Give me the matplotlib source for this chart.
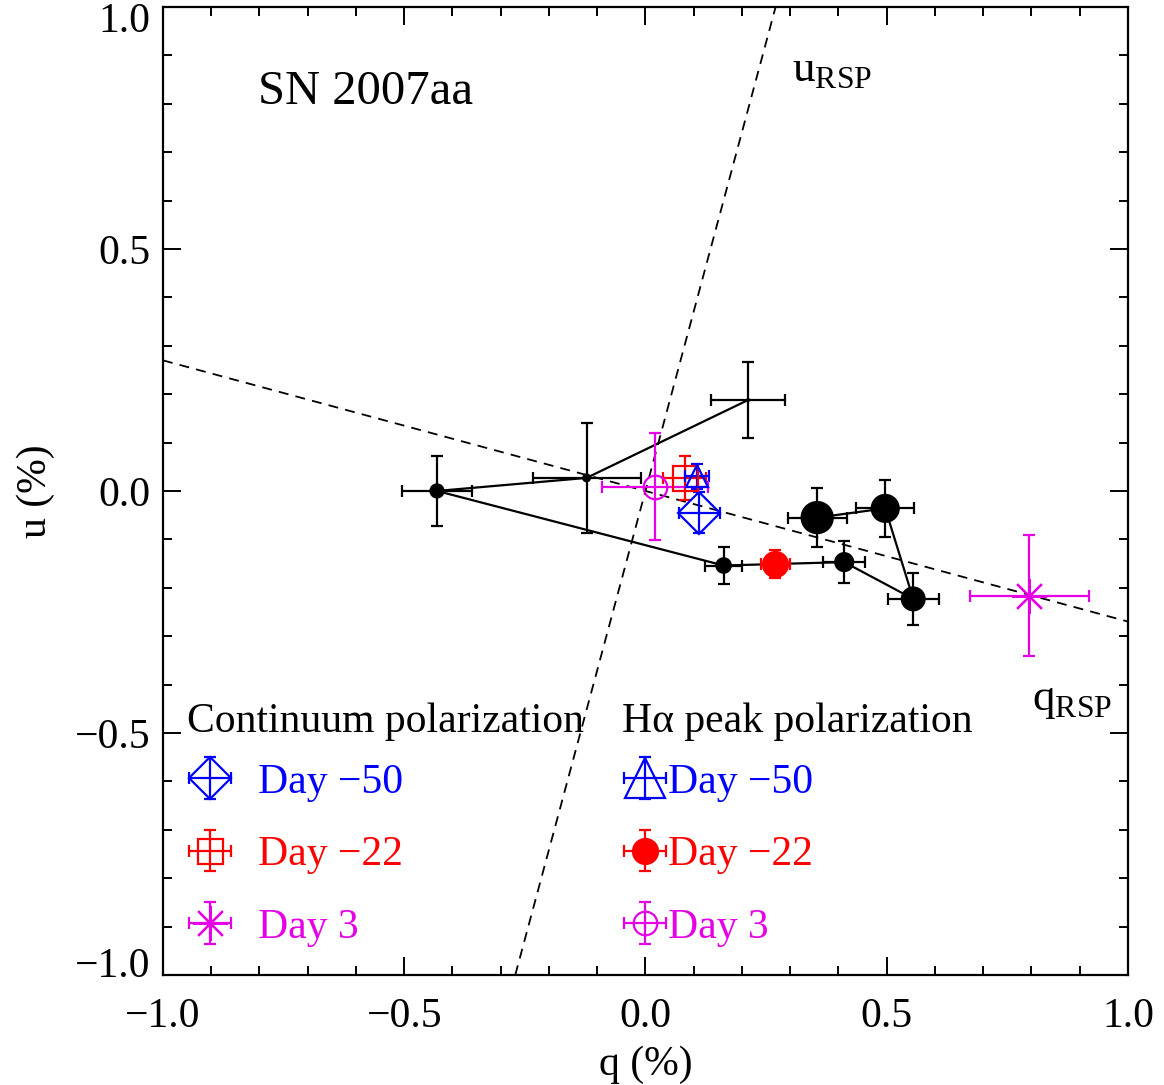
import numpy as np
import matplotlib.pyplot as plt
from matplotlib.ticker import MultipleLocator
from matplotlib.transforms import ScaledTranslation
from matplotlib.legend_handler import HandlerErrorbar

plt.rcParams['font.family'] = 'serif'
plt.rcParams['font.serif'] = ['Liberation Serif', 'DejaVu Serif']
plt.rcParams['mathtext.fontset'] = 'custom'
plt.rcParams['mathtext.rm'] = 'Liberation Serif'

##### DATA #####
# H-alpha profile across velocity bins (black, joined by a line)
seq_q = [0.213, -0.122, -0.432, 0.162, 0.412, 0.555, 0.497, 0.356]
seq_u = [0.188, 0.027, 0.000, -0.154, -0.147, -0.223, -0.036, -0.055]
seq_qerr = [0.077, 0.112, 0.073, 0.038, 0.044, 0.053, 0.060, 0.061]
seq_uerr = [0.078, 0.113, 0.073, 0.038, 0.044, 0.054, 0.059, 0.061]
seq_size = [3, 6.5, 11, 12, 14.5, 18, 21, 24]   # marker diameter, pt

epochs = ['Day \u221250', 'Day \u221222', 'Day 3']
epoch_colors = ['#0000ff', '#ff0000', '#e600e6']

# continuum polarization
cont_q = [0.112, 0.081, 0.796]
cont_u = [-0.045, 0.027, -0.217]
cont_qerr = [0.042, 0.044, 0.124]
cont_uerr = [0.042, 0.046, 0.125]

# H-alpha peak polarization
peak_q = [0.107, 0.269, 0.019]
peak_u = [0.030, -0.151, 0.009]
peak_qerr = [0.024, 0.030, 0.110]
peak_uerr = [0.025, 0.029, 0.111]

# rotated stokes frame, angle of q_RSP axis in the q-u plane (deg)
rsp_angle = -15.1


##### PLOT #####
fig = plt.figure(figsize=(11.64, 10.85), dpi=100)
ax = fig.add_axes([0.140, 0.1014, 0.829, 0.8922])

# dashed RSP axes through origin
t = np.deg2rad(rsp_angle)
for slope in [np.tan(t), -1.0 / np.tan(t)]:
    ax.axline((0, 0), slope=slope, color='k', lw=1.3, dashes=(5.5, 4.0), zorder=1)

# black sequence
ax.errorbar(seq_q, seq_u, xerr=seq_qerr, yerr=seq_uerr, fmt='none', ecolor='k',
            elinewidth=1.6, capsize=4.5, capthick=1.6, zorder=2)
ax.plot(seq_q, seq_u, color='k', lw=1.6, zorder=2)
ax.scatter(seq_q, seq_u, s=np.array(seq_size) ** 2, c='k', linewidths=0, zorder=3)


def pol_point(q, u, qe, ue, marker, ms, color, filled=False):
    return ax.errorbar([q], [u], xerr=[qe], yerr=[ue], fmt='', marker=marker, ls='none',
                       ms=ms, color=color, mfc=color if filled else 'none', mec=color,
                       mew=1.6, elinewidth=1.6, capsize=4.5, capthick=1.6, zorder=4)


cont_markers = [('D', 21), ('s', 18), ((8, 2, 0), 25)]
peak_markers = [('^', 16, False), ('o', 18, True), ('o', 17, False)]

cont_handles = []
for i in range(3):
    m, ms = cont_markers[i]
    cont_handles.append(pol_point(cont_q[i], cont_u[i], cont_qerr[i], cont_uerr[i],
                                  m, ms, epoch_colors[i]))
peak_handles = []
for i in range(3):
    m, ms, fill = peak_markers[i]
    peak_handles.append(pol_point(peak_q[i], peak_u[i], peak_qerr[i], peak_uerr[i],
                                  m, ms, epoch_colors[i], filled=fill))

# axes
ax.set_xlim(-1, 1)
ax.set_ylim(-1, 1)
ax.set_xticks([-1, -0.5, 0, 0.5, 1])
ax.set_yticks([-1, -0.5, 0, 0.5, 1])
ax.xaxis.set_minor_locator(MultipleLocator(0.1))
ax.yaxis.set_minor_locator(MultipleLocator(0.1))
ax.xaxis.set_major_formatter(lambda v, p: f'{v:.1f}'.replace('-', '\u2212'))
ax.yaxis.set_major_formatter(lambda v, p: f'{v:.1f}'.replace('-', '\u2212'))
ax.tick_params(which='both', direction='in', top=True, right=True, width=1.4, labelsize=30)
ax.tick_params(which='major', length=13)
ax.tick_params(which='minor', length=6.5)
ax.tick_params(axis='x', pad=16)
ax.tick_params(axis='y', pad=9)
for s in ax.spines.values():
    s.set_linewidth(1.6)

ax.set_xlabel('q (%)', fontsize=30, labelpad=7)
ax.set_ylabel('u (%)', fontsize=30, labelpad=14)

# keep end labels of the u axis inside the figure
yt = ax.yaxis.get_major_ticks()
yt[0].label1.set_transform(yt[0].label1.get_transform() +
                           ScaledTranslation(0, 0.13, fig.dpi_scale_trans))
yt[-1].label1.set_transform(yt[-1].label1.get_transform() +
                            ScaledTranslation(0, -0.10, fig.dpi_scale_trans))

# labels
ax.text(-0.803, 0.824, 'SN 2007aa', fontsize=35, ha='left', va='center')
ax.text(0.304, 0.845, r'u$_\mathrm{RSP}$', fontsize=32.5, ha='left', va='baseline')
ax.text(0.801, -0.452, r'q$_\mathrm{RSP}$', fontsize=32.5, ha='left', va='baseline')

ax.text(0.025, 0.2614, 'Continuum polarization', fontsize=30, transform=ax.transAxes,
        ha='left', va='center')
ax.text(0.4756, 0.2614, 'H\u03b1 peak polarization', fontsize=30, transform=ax.transAxes,
        ha='left', va='center')

leg1 = ax.legend(cont_handles, epochs, loc='center left', bbox_to_anchor=(0.025, 0.124),
                 frameon=False, fontsize=30, borderpad=0, borderaxespad=0,
                 handlelength=1.1, handletextpad=0.6, labelspacing=0.82)
for txt, c in zip(leg1.get_texts(), epoch_colors):
    txt.set_color(c)
ax.add_artist(leg1)


# the triangle is drawn larger in the key than on the plot
def grow_triangle(h, orig):
    h.update_from(orig)
    if hasattr(h, 'get_marker') and h.get_marker() == '^':
        h.set_markersize(29)


big_tri = HandlerErrorbar(update_func=grow_triangle)
leg2 = ax.legend(peak_handles, epochs, loc='center left', bbox_to_anchor=(0.4756, 0.124),
                 frameon=False, fontsize=30, borderpad=0, borderaxespad=0,
                 handlelength=1.1, handletextpad=0.0, labelspacing=0.82,
                 handler_map={peak_handles[0]: big_tri})
for txt, c in zip(leg2.get_texts(), epoch_colors):
    txt.set_color(c)

fig.savefig('out.png', dpi=100)
